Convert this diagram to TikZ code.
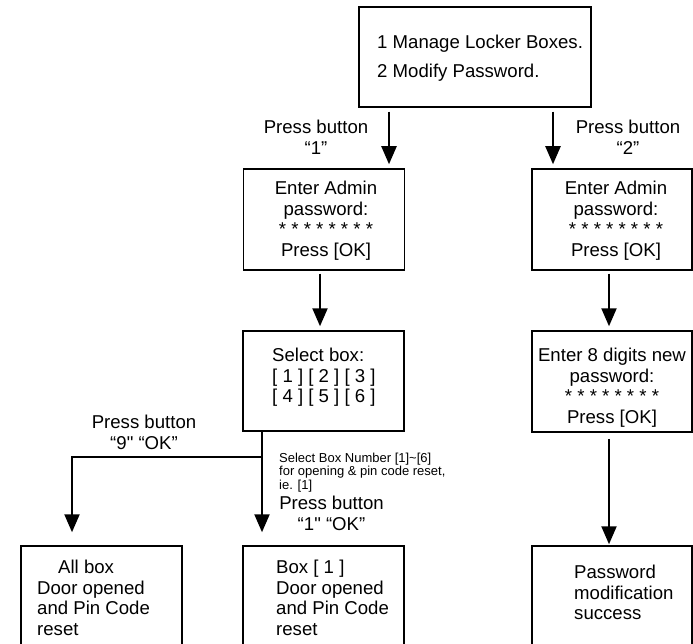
\documentclass[tikz,border=0pt]{standalone}
\usepackage{fontspec}
\setmainfont{Liberation Sans}[Ligatures=TeXOff]
\usetikzlibrary{positioning,arrows.meta}
\tikzset{
box/.style={draw, line width=1.5pt, inner sep=0pt, minimum width=161pt, minimum height=101pt},
txt/.style={inner sep=0pt, font=\fontsize{18.6}{20.7}\selectfont},
note/.style={inner sep=0pt, align=left, font=\fontsize{13}{13.6}\selectfont},
flow/.style={->, line width=2.2pt}
}

\begin{document}
\begin{tikzpicture}[x=1pt,y=-1pt,>={Triangle[length=18pt,width=15pt]}]
\clip (0,0) rectangle (693,644);

% boxes
\node[box,minimum width=232pt,minimum height=100pt] (menu) at (475,57) {};
\node[box] (adminA) at (324,219.5) {};
\node[box,minimum width=160pt] (adminB) at (612,219.5) {};
\node[box,minimum height=100pt] (select) at (323.5,381) {};
\node[box,minimum width=160pt] (newpw) at (612,381.5) {};
\node[box,minimum height=120pt] (allbox) at (101.5,606) {};
\node[box,minimum height=120pt] (boxone) at (323.5,606) {};
\node[box,minimum width=160pt,minimum height=120pt] (pwdone) at (612,606) {};

% texts
\node[txt,align=left,anchor=north west] (menutxt) at (377,34.7) {1 Manage Locker Boxes.\\[8.3pt]2 Modify Password.};
\node[txt,align=center,anchor=north] (adminAtxt) at (326,180.7) {Enter Admin\\password:\\* * * * * * * *\\Press [OK]};
\node[txt,align=center,anchor=north] (adminBtxt) at (616,180.7) {Enter Admin\\password:\\* * * * * * * *\\Press [OK]};
\node[txt,align=left,anchor=north west] (selecttxt) at (272,347.7) {Select box:\\{}[ 1 ] [ 2 ] [ 3 ]\\{}[ 4 ] [ 5 ] [ 6 ]};
\node[txt,align=center,anchor=north] (newpwtxt) at (612,347.7) {Enter 8 digits new\\password:\\* * * * * * * *\\Press [OK]};
\node[txt,align=left,anchor=north west] (allboxtxt) at (37,559.7) {\hspace*{21pt}All box\\Door opened\\and Pin Code\\reset};
\node[txt,align=left,anchor=north west] (boxonetxt) at (276,559.7) {Box [ 1 ]\\Door opened\\and Pin Code\\reset};
\node[txt,align=left,anchor=north west] (pwdonetxt) at (574,564.7) {Password\\modification\\success};

% labels
\node[txt,align=center,anchor=north] (key1) at (316,119.7) {Press button\\“1”};
\node[txt,align=center,anchor=north] (key2) at (628,119.7) {Press button\\“2”};
\node[txt,align=center,anchor=north] (key9) at (144,414.7) {Press button\\“9" “OK”};
\node[txt,align=center,anchor=north] (keyok) at (331.5,495.7) {Press button\\“1" “OK”};
\node[note,anchor=north west] (hint) at (279,452.7) {Select Box Number [1]\textasciitilde[6]\\for opening \& pin code reset,\\ie. [1]};

% arrows
\coordinate (fork1) at ([xshift=-86pt]menu.south);
\coordinate (fork2) at ([xshift=78pt]menu.south);
\coordinate (down1) at ([xshift=-4pt]adminA.south);
\coordinate (down2) at ([xshift=-3pt]adminB.south);
\coordinate (down3) at ([xshift=-3pt]newpw.south);
\coordinate (split) at ([xshift=-61.5pt]select.south);
\coordinate (branch) at ([yshift=-25pt]split);
\coordinate (alltop) at ([xshift=-29.5pt]allbox.north);

\draw[flow,shorten <=4pt,shorten >=4pt] (fork1) -- (fork1 |- adminA.north);
\draw[flow,shorten <=4pt,shorten >=4pt] (fork2) -- (fork2 |- adminB.north);
\draw[flow,shorten <=3pt,shorten >=4pt] (down1) -- (down1 |- select.north);
\draw[flow,shorten <=3pt,shorten >=4pt] (down2) -- (down2 |- newpw.north);
\draw[flow,shorten <=6pt,shorten >=1pt] (down3) -- (down3 |- pwdone.north);
\draw[flow,shorten >=13pt] (split) -- (split |- boxone.north);
\draw[flow,shorten >=13pt] (branch) -| (alltop);
\end{tikzpicture}
\end{document}
